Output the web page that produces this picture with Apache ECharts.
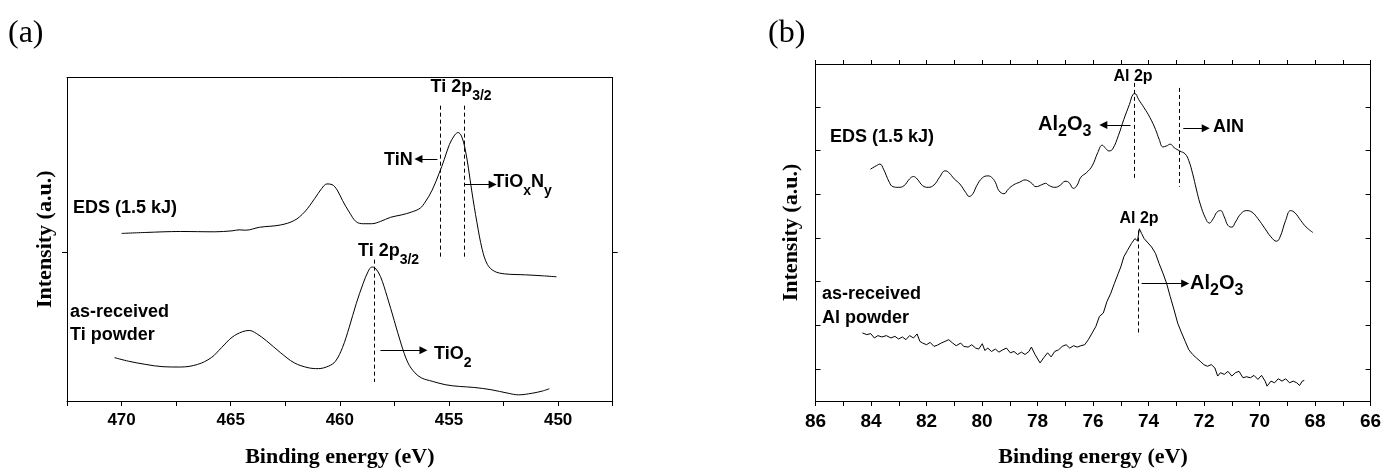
<!DOCTYPE html>
<html><head><meta charset="utf-8">
<script src="https://cdn.jsdelivr.net/npm/echarts@6/dist/echarts.min.js"></script>
<style>html,body{margin:0;padding:0;background:#fff}#c{width:1385px;height:473px}</style>
</head><body><div id="c"></div>
<script>
// ---- data (binding energy eV, intensity a.u.) ----
const tiEDS = [[470.00,51.8],[468.89,52.1],[467.31,52.4],[465.73,52.3],[464.94,52.6],[464.62,52.9],[464.31,52.8],[463.68,53.7],[462.73,54.4],[462.09,55.8],[461.62,58.4],[461.15,62.6],[460.83,65.7],[460.59,67.1],[460.36,66.9],[460.12,65.2],[459.88,62.0],[459.57,58.4],[459.25,55.4],[458.93,54.8],[458.54,54.8],[458.14,55.5],[457.67,56.8],[457.19,57.5],[456.72,58.4],[456.32,59.6],[456.09,61.5],[455.77,65.2],[455.45,70.4],[455.22,74.6],[454.98,79.3],[454.74,82.2],[454.58,83.0],[454.43,81.9],[454.27,78.2],[454.11,72.0],[453.95,64.6],[453.72,55.2],[453.48,46.9],[453.24,42.2],[452.92,40.1],[452.45,39.3],[451.50,39.0],[450.71,38.7],[450.08,38.4]];
const tiRaw = [[470.32,13.4],[469.68,12.3],[468.89,11.3],[468.10,10.6],[467.31,10.5],[466.52,11.3],[465.89,13.4],[465.42,16.5],[464.94,19.7],[464.47,21.4],[464.15,21.8],[463.83,20.9],[463.36,18.6],[462.73,15.0],[462.09,11.8],[461.46,10.3],[460.99,10.0],[460.51,10.8],[460.20,12.3],[459.88,16.5],[459.57,22.8],[459.25,30.1],[458.93,36.4],[458.70,40.1],[458.54,41.4],[458.38,41.1],[458.14,38.5],[457.83,32.2],[457.51,24.9],[457.19,17.6],[456.88,11.8],[456.56,8.7],[456.25,7.1],[455.77,6.1],[455.14,5.0],[454.51,4.5],[453.87,4.2],[453.08,3.5],[452.29,2.4],[451.82,1.9],[451.19,2.4],[450.71,3.1],[450.40,3.8]];
const alEDS = [[84.02,68.8],[83.81,69.8],[83.68,70.3],[83.55,68.8],[83.34,64.9],[83.21,63.6],[83.01,63.4],[82.81,63.9],[82.61,65.9],[82.47,66.6],[82.34,65.9],[82.14,63.9],[81.94,63.4],[81.73,64.1],[81.53,66.4],[81.33,68.3],[81.20,67.8],[81.00,65.9],[80.80,64.4],[80.59,61.9],[80.46,60.7],[80.33,61.5],[80.19,63.9],[79.99,66.2],[79.79,66.8],[79.66,66.4],[79.52,64.9],[79.39,62.4],[79.21,61.5],[79.05,62.9],[78.85,64.2],[78.65,64.9],[78.45,65.6],[78.25,64.9],[78.05,63.6],[77.84,64.2],[77.71,64.6],[77.58,63.9],[77.37,63.4],[77.17,64.1],[77.01,65.2],[76.88,64.9],[76.70,63.1],[76.57,64.1],[76.44,66.4],[76.23,67.8],[76.03,69.8],[75.83,73.7],[75.67,75.9],[75.54,74.9],[75.43,74.2],[75.30,74.7],[75.09,78.7],[74.89,83.6],[74.69,88.0],[74.56,91.0],[74.49,91.2],[74.36,89.5],[74.16,87.0],[73.95,84.1],[73.75,80.6],[73.62,77.7],[73.48,75.4],[73.35,75.7],[73.22,76.2],[73.08,75.2],[72.88,74.2],[72.68,73.3],[72.55,71.3],[72.41,67.4],[72.28,62.9],[72.14,58.5],[71.94,54.1],[71.81,52.8],[71.67,54.1],[71.54,56.0],[71.41,56.5],[71.27,54.6],[71.14,52.1],[71.00,51.6],[70.87,53.1],[70.67,55.6],[70.47,56.5],[70.27,56.0],[70.06,54.1],[69.80,51.1],[69.59,48.7],[69.39,47.4],[69.26,48.7],[69.06,53.6],[68.88,56.5],[68.72,55.8],[68.52,53.6],[68.32,51.6],[68.08,50.0]];
const alRaw = [[84.31,20.2],[84.15,19.7],[84.01,20.0],[83.88,18.7],[83.75,19.4],[83.61,19.0],[83.45,19.4],[83.28,18.7],[83.14,19.2],[83.01,18.4],[82.87,19.0],[82.74,18.2],[82.61,19.4],[82.47,18.7],[82.34,19.9],[82.24,17.7],[82.14,17.2],[82.00,16.7],[81.87,17.4],[81.73,16.2],[81.60,16.6],[81.47,17.2],[81.33,17.7],[81.20,18.2],[81.06,17.2],[80.93,16.4],[80.77,17.2],[80.66,16.2],[80.50,16.0],[80.37,16.7],[80.23,15.7],[80.12,15.4],[79.99,17.0],[79.90,15.0],[79.79,15.7],[79.66,14.7],[79.52,15.4],[79.39,14.5],[79.25,15.2],[79.12,15.7],[78.98,14.3],[78.85,14.7],[78.72,13.8],[78.58,14.5],[78.45,13.8],[78.31,14.7],[78.22,16.0],[78.09,13.8],[77.91,11.3],[77.78,12.8],[77.64,14.3],[77.51,13.1],[77.38,14.7],[77.24,15.2],[77.11,16.2],[76.97,16.7],[76.84,15.7],[76.70,16.4],[76.57,16.0],[76.44,16.4],[76.30,16.7],[76.17,18.2],[76.03,20.2],[75.90,22.1],[75.77,25.1],[75.63,26.1],[75.50,29.5],[75.36,32.0],[75.23,34.9],[75.09,37.9],[75.00,39.8],[74.89,42.8],[74.76,44.7],[74.62,46.7],[74.49,48.2],[74.40,47.5],[74.33,51.1],[74.25,49.7],[74.16,48.2],[74.02,46.9],[73.89,45.7],[73.75,43.8],[73.62,40.8],[73.48,37.9],[73.35,34.9],[73.22,31.0],[73.08,27.0],[72.95,23.1],[72.81,20.2],[72.68,17.7],[72.55,15.2],[72.41,13.8],[72.28,12.8],[72.14,11.8],[72.01,10.8],[71.88,10.3],[71.74,10.8],[71.61,9.8],[71.51,7.4],[71.41,8.4],[71.27,7.9],[71.14,8.8],[71.00,7.4],[70.87,8.4],[70.74,8.8],[70.60,6.9],[70.47,7.2],[70.33,6.9],[70.20,7.6],[70.06,6.4],[69.93,7.6],[69.80,5.9],[69.73,4.4],[69.59,5.9],[69.46,5.4],[69.33,6.6],[69.19,5.9],[69.06,6.6],[68.92,5.4],[68.79,5.9],[68.66,5.4],[68.56,4.6],[68.46,5.9],[68.39,6.1]];
const tiXLabels = [450, 455, 460, 465, 470];
const alXLabels = [66, 68, 70, 72, 74, 76, 78, 80, 82, 84, 86];
const tiYTicks = [46];
const alYTicks = [9.5, 22.4, 35.4, 48.4, 61.3, 74.3, 87.3];
// dashed guide lines: [energy, intensity from, intensity to]
const tiGuides = [[455.38, 91.3, 43.7], [454.32, 91.3, 44.2], [458.43, 43.7, 5.9]];
const alGuides = [[74.53, 94.4, 65.4], [72.88, 92.9, 63.6], [74.38, 50.6, 19.4]];
// arrows: [energy from, energy to, intensity]
const tiArrows = [[455.53, 456.40, 74.8], [454.27, 453.00, 66.9], [458.14, 456.17, 15.7]];
const alArrows = [[74.65, 75.63, 81.9], [72.75, 71.94, 80.9], [74.25, 72.68, 34.9]];

// ---- styling ----
const SANS = '"Liberation Sans", Arial, Helvetica, sans-serif';
const NARROW = '"Liberation Sans Narrow", "Liberation Sans", Arial, sans-serif';
const SERIF = '"Liberation Serif", "Times New Roman", serif';
const BLACK = '#000';

function rich(size, sub) {
  return {
    m: {fontSize: size, fontWeight: 'bold', fontFamily: SANS, fill: BLACK, lineHeight: 32, verticalAlign: 'middle'},
    s: {fontSize: sub, fontWeight: 'bold', fontFamily: SANS, fill: BLACK, verticalAlign: 'bottom'}
  };
}
function label(x, y, text, size, sub, align) {
  return {type: 'text', x: x, y: y, z: 100, silent: true,
    style: {text: text, rich: rich(size || 18, sub || 14), align: align || 'left', verticalAlign: 'middle', fill: BLACK}};
}

function guideLines(g) {
  return g.map(d => [{coord: [d[0], d[1]], symbol: 'none'}, {coord: [d[0], d[2]], symbol: 'none'}]);
}
function arrowLines(a) {
  return a.map(d => [{coord: [d[0], d[2]], symbol: 'none'}, {coord: [d[1], d[2]], symbol: 'triangle', symbolSize: 8}]);
}

const axisLine = {show: true, onZero: false, lineStyle: {color: BLACK, width: 1}};
const tickStyle = {color: BLACK, width: 1};

function curve(data, xi, yi, smooth, markData, dashed) {
  return {
    type: 'line', xAxisIndex: xi, yAxisIndex: yi, data: data, showSymbol: false, symbol: 'none',
    smooth: smooth, lineStyle: {color: BLACK, width: 1}, silent: true,
    markLine: {silent: true, animation: false, symbol: ['none', 'none'], label: {show: false},
      lineStyle: {type: dashed ? [4, 3] : 'solid', color: BLACK, width: 1}, emphasis: {disabled: true},
      data: markData}
  };
}

const chart = echarts.init(document.getElementById('c'), null, {renderer: 'canvas'});
chart.setOption({
  animation: false,
  backgroundColor: '#fff',
  grid: [
    {left: 67, top: 77.5, width: 545.7, height: 328},
    {left: 815.5, top: 64, width: 555.1, height: 339}
  ],
  xAxis: [
    {gridIndex: 0, type: 'value', position: 'bottom', min: 447.5, max: 472.5, interval: 2.5, inverse: true,
      axisLine: axisLine, axisTick: {show: true, inside: false, length: 5, lineStyle: tickStyle},
      axisLabel: {customValues: tiXLabels, margin: 11, color: BLACK, fontSize: 17, fontWeight: 'bold', fontFamily: SANS},
      splitLine: {show: false},
      name: 'Binding energy (eV)', nameLocation: 'middle', nameGap: 45,
      nameTextStyle: {fontFamily: SERIF, fontWeight: 'bold', fontSize: 22, color: BLACK}},
    {gridIndex: 0, type: 'value', position: 'top', min: 447.5, max: 472.5, interval: 2.5, inverse: true,
      axisLine: axisLine, axisTick: {show: false}, axisLabel: {show: false}, splitLine: {show: false}},
    {gridIndex: 1, type: 'value', position: 'bottom', min: 66, max: 86, interval: 1, inverse: true,
      axisLine: axisLine, axisTick: {show: true, inside: false, length: 5, lineStyle: tickStyle},
      axisLabel: {customValues: alXLabels, margin: 11, color: BLACK, fontSize: 19, fontWeight: 'bold', fontFamily: NARROW},
      splitLine: {show: false},
      name: 'Binding energy (eV)', nameLocation: 'middle', nameGap: 45,
      nameTextStyle: {fontFamily: SERIF, fontWeight: 'bold', fontSize: 22, color: BLACK}},
    {gridIndex: 1, type: 'value', position: 'top', min: 66, max: 86, interval: 1, inverse: true,
      axisLine: axisLine, axisTick: {show: true, inside: false, length: 4, lineStyle: tickStyle},
      axisLabel: {show: false}, splitLine: {show: false}}
  ],
  yAxis: [
    {gridIndex: 0, type: 'value', position: 'left', min: 0, max: 100,
      axisLine: axisLine, axisTick: {show: true, inside: false, length: 5, customValues: tiYTicks, lineStyle: tickStyle},
      axisLabel: {show: false}, splitLine: {show: false},
      name: 'Intensity (a.u.)', nameLocation: 'middle', nameGap: 11,
      nameTextStyle: {fontFamily: SERIF, fontWeight: 'bold', fontSize: 22, color: BLACK}},
    {gridIndex: 0, type: 'value', position: 'right', min: 0, max: 100,
      axisLine: axisLine, axisTick: {show: true, inside: false, length: 5, customValues: tiYTicks, lineStyle: tickStyle},
      axisLabel: {show: false}, splitLine: {show: false}},
    {gridIndex: 1, type: 'value', position: 'left', min: 0, max: 100,
      axisLine: axisLine, axisTick: {show: true, inside: true, length: 5, customValues: alYTicks, lineStyle: tickStyle},
      axisLabel: {show: false}, splitLine: {show: false},
      name: 'Intensity (a.u.)', nameLocation: 'middle', nameGap: 13,
      nameTextStyle: {fontFamily: SERIF, fontWeight: 'bold', fontSize: 22, color: BLACK}},
    {gridIndex: 1, type: 'value', position: 'right', min: 0, max: 100,
      axisLine: axisLine, axisTick: {show: true, inside: true, length: 5, customValues: alYTicks, lineStyle: tickStyle},
      axisLabel: {show: false}, splitLine: {show: false}}
  ],
  series: [
    curve(tiEDS, 0, 0, 0.35, guideLines(tiGuides), true),
    curve(tiRaw, 0, 0, 0.35, arrowLines(tiArrows), false),
    curve(alEDS, 2, 2, 0.45, guideLines(alGuides), true),
    curve(alRaw, 2, 2, false, arrowLines(alArrows), false)
  ],
  graphic: [
    {type: 'text', x: 8, y: 34, silent: true, style: {text: '(a)', font: '32px ' + SERIF, fill: BLACK, verticalAlign: 'middle'}},
    {type: 'text', x: 768, y: 34, silent: true, style: {text: '(b)', font: '32px ' + SERIF, fill: BLACK, verticalAlign: 'middle'}},
    label(430.5, 87, '{m|Ti 2p}{s|3/2}'),
    label(384, 160, '{m|TiN}'),
    label(493.6, 182, '{m|TiO}{s|x}{m|N}{s|y}'),
    label(73, 208, '{m|EDS (1.5 kJ)}'),
    label(358, 251, '{m|Ti 2p}{s|3/2}'),
    label(70, 312, '{m|as-received}'),
    label(70, 335, '{m|Ti powder}'),
    label(434, 354, '{m|TiO}{s|2}'),
    label(1133, 77, '{m|Al 2p}', 16, 12, 'center'),
    label(1038, 124, '{m|Al}{s|2}{m|O}{s|3}', 20, 16),
    label(1213, 127, '{m|AlN}'),
    label(830, 137, '{m|EDS (1.5 kJ)}'),
    label(1139, 219, '{m|Al 2p}', 16, 12, 'center'),
    label(1190, 283, '{m|Al}{s|2}{m|O}{s|3}', 20, 16),
    label(822, 294, '{m|as-received}'),
    label(822, 318, '{m|Al powder}')
  ]
});
</script></body></html>
